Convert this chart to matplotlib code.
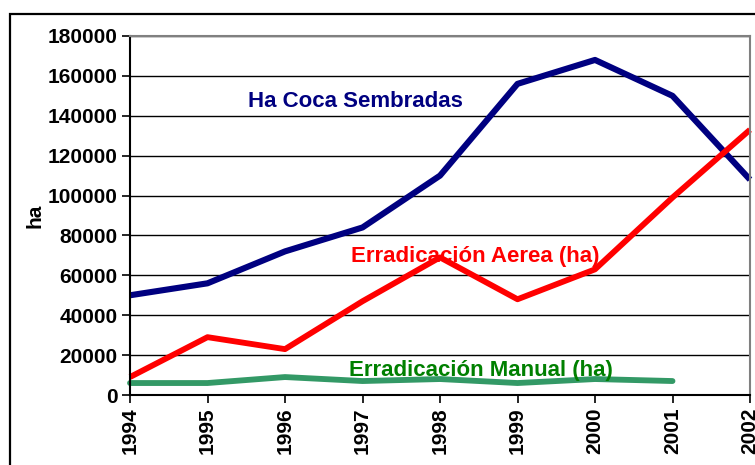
import matplotlib
matplotlib.use("Agg")
import matplotlib.pyplot as plt
from matplotlib.patches import Rectangle

plt.rcParams['font.family'] = ['Liberation Sans', 'DejaVu Sans']

years = [1994, 1995, 1996, 1997, 1998, 1999, 2000, 2001, 2002]
coca = [50000, 56000, 72000, 84000, 110000, 156000, 168000, 150000, 108000]
aerea = [9000, 29000, 23000, 47000, 69000, 48000, 63000, 99000, 133000]
manual_years = [1994, 1995, 1996, 1997, 1998, 1999, 2000, 2001]
manual = [6000, 6000, 9000, 7000, 8000, 6000, 8000, 7000]

fig = plt.figure(figsize=(7.55, 4.65), dpi=100)
ax = fig.add_axes([130/755, 70/465, 620/755, 359/465])

# outer chart frame (cut off on the right/bottom in the reference)
fig.patches.append(Rectangle((10/755, -0.1), 1.2, (465-14)/465 + 0.1,
                             transform=fig.transFigure, fill=False,
                             edgecolor='black', linewidth=1.6))

ax.plot(years, coca, color='#000080', linewidth=4.4, clip_on=False, solid_capstyle='butt')
ax.plot(years, aerea, color='#ff0000', linewidth=4.2, clip_on=False, solid_capstyle='butt')
ax.plot(manual_years, manual, color='#339966', linewidth=4.2, clip_on=False, solid_capstyle='round')

ax.set_xlim(1994, 2002)
ax.set_ylim(0, 180000)
ax.set_yticks(range(0, 180001, 20000))
ax.set_xticks(years)
ax.set_xticklabels([str(y) for y in years], rotation=90, fontsize=15, fontweight='bold')
ax.set_yticklabels([str(v) for v in range(0, 180001, 20000)], fontsize=15, fontweight='bold')
ax.grid(axis='y', color='black', linewidth=1)
ax.set_axisbelow(True)
ax.tick_params(axis='both', direction='out', length=6, width=1.2, color='black', pad=3)

for side in ['top', 'right']:
    ax.spines[side].set_color('#808080')
    ax.spines[side].set_linewidth(1.5)
for side in ['left', 'bottom']:
    ax.spines[side].set_color('black')
    ax.spines[side].set_linewidth(1.5)

ax.set_ylabel('ha', fontsize=15, fontweight='bold', labelpad=2)

ax.text(1995.52, 147000, 'Ha Coca Sembradas', color='#000080', fontsize=16,
        fontweight='bold', va='center')
ax.text(1996.85, 69500, 'Erradicación Aerea (ha)', color='#ff0000', fontsize=16,
        fontweight='bold', va='center')
ax.text(1996.83, 12500, 'Erradicación Manual (ha)', color='#008000', fontsize=16,
        fontweight='bold', va='center')

fig.savefig('out.png', dpi=100)
